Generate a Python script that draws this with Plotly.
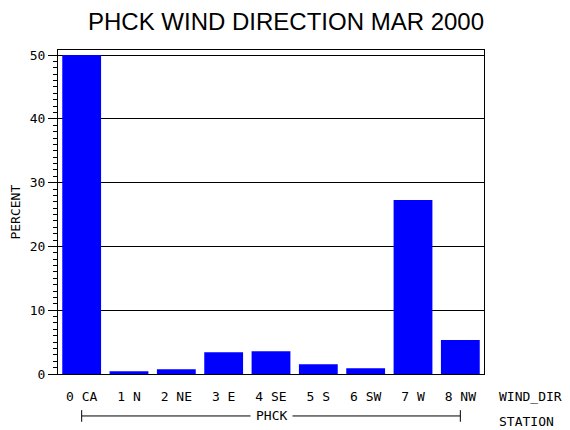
import plotly.graph_objects as go

categories = ["0 CA", "1 N", "2 NE", "3 E", "4 SE", "5 S", "6 SW", "7 W", "8 NW"]
percent = [50.0, 0.42, 0.73, 3.40, 3.55, 1.52, 0.89, 27.3, 5.33]
y_ticks = [0, 10, 20, 30, 40, 50]
station = "PHCK"
title_text = "PHCK WIND DIRECTION MAR 2000"

MONO = "DejaVu Sans Mono"

# the page body adds an 8px offset, so the figure is sized to end at 570x430
W, H = 562, 422

fig = go.Figure()
fig.add_trace(go.Bar(x=categories, y=percent, marker=dict(color="#0000ff", line=dict(width=0)),
                     hoverinfo="x+y"))

fig.update_layout(
    width=W, height=H,
    margin=dict(l=50, r=86, t=42, b=56),
    paper_bgcolor="white", plot_bgcolor="white",
    bargap=0.18,
    showlegend=False,
    title=dict(text=title_text, x=(286 - 8) / W, xref="container", xanchor="center",
               y=1 - 14 / H, yref="container", yanchor="middle",
               font=dict(family="Liberation Sans", size=24, color="black")),
    xaxis=dict(type="category", showline=True, mirror=True, linecolor="black", linewidth=1,
               showgrid=False, ticks="", ticklabelstandoff=10,
               tickfont=dict(family=MONO, size=13, color="black"),
               range=[-0.5, len(categories) - 0.5]),
    yaxis=dict(range=[0, 50.8], tickvals=y_ticks, showline=True, mirror=True,
               linecolor="black", linewidth=1,
               showgrid=True, gridcolor="black", gridwidth=1, zeroline=False,
               ticks="outside", ticklen=9, tickwidth=1, tickcolor="black",
               tickfont=dict(family=MONO, size=13, color="black"),
               minor=dict(dtick=1, tick0=0, ticks="outside", ticklen=4, tickcolor="black",
                          showgrid=False)),
)

# axis titles / labels
fig.add_annotation(text="PERCENT", xref="paper", yref="paper", x=-0.102, y=0.5,
                   textangle=-90, showarrow=False, xanchor="center", yanchor="middle",
                   font=dict(family=MONO, size=13, color="black"))
fig.add_annotation(text="WIND_DIR", xref="paper", yref="paper", x=1.03, y=-0.068,
                   showarrow=False, xanchor="left", yanchor="middle",
                   font=dict(family=MONO, size=13, color="black"))
fig.add_annotation(text="STATION", xref="paper", yref="paper", x=1.03, y=-0.148,
                   showarrow=False, xanchor="left", yanchor="middle",
                   font=dict(family=MONO, size=13, color="black"))

# station bracket
yb = -0.1295
fig.add_shape(type="line", xref="x", yref="paper", x0=categories[0], x1=categories[-1],
              y0=yb, y1=yb, line=dict(color="black", width=1))
for c in (categories[0], categories[-1]):
    fig.add_shape(type="line", xref="x", yref="paper", x0=c, x1=c,
                  y0=yb + 0.018, y1=yb - 0.018, line=dict(color="black", width=1))
fig.add_annotation(text=station, xref="x", yref="paper", x=categories[4], y=yb,
                   showarrow=False, xanchor="center", yanchor="middle", bgcolor="white",
                   borderpad=5, font=dict(family=MONO, size=13, color="black"))

fig.write_html("out.html")
